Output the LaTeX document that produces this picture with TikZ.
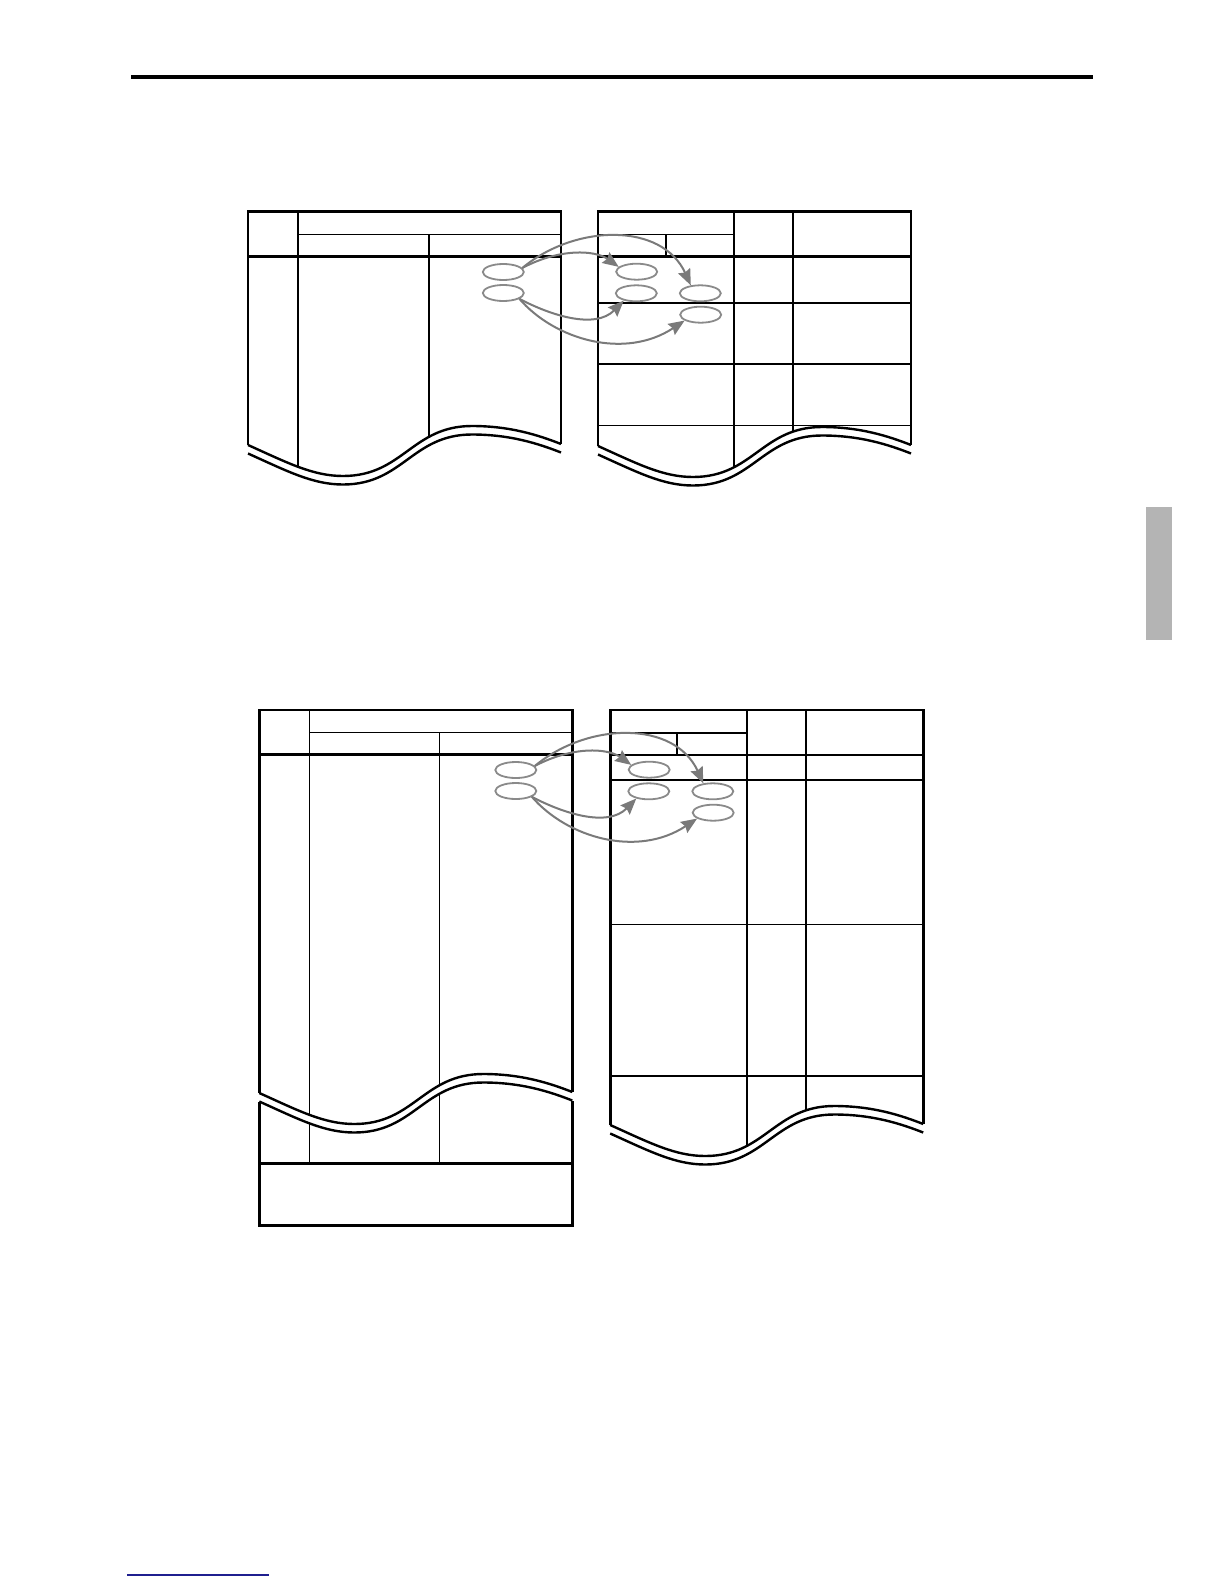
\documentclass[tikz,border=0pt]{standalone}
\usetikzlibrary{arrows.meta,shapes.geometric}
\definecolor{ellgray}{HTML}{8A8A8A}
\definecolor{arrgray}{HTML}{7A7A7A}
\definecolor{tabgray}{HTML}{B4B4B4}
\definecolor{linkblue}{HTML}{1F1F8F}
\tikzset{
  outerln/.style={line width=1.4pt, line join=miter},
  innerln/.style={line width=0.8pt},
  waveln/.style={line width=1.2pt},
  ell/.style={ellipse, draw=ellgray, line width=0.9pt, minimum width=20.5pt, minimum height=8pt, inner sep=0pt},
  flow/.style={draw=arrgray, line width=1pt, -{Stealth[length=8pt,width=6.5pt,inset=1pt]}},
}
\def\wavecurve{.. controls (40,18) and (65,31) .. (95,31) .. controls (155,31) and (164,-19) .. (224,-19) .. controls (262,-19) and (290,-10) .. (313,-1)}
\newcommand\arrowgroup[1]{%
  \node[ell] (#1l1) at (503.3,272) {};
  \node[ell] (#1l2) at (503.3,293) {};
  \node[ell] (#1r1) at (636.7,271.7) {};
  \node[ell] (#1r2) at (636.3,293.3) {};
  \node[ell] (#1r3) at (700.3,293.3) {};
  \node[ell] (#1r4) at (700.7,314.7) {};
  \draw[flow] (#1l1.12) .. controls (560,248) and (595,250) .. (#1r1.165);
  \draw[flow] (#1l1.12) .. controls (575,224) and (662,222) .. (#1r3.140);
  \draw[flow] (#1l2.-20) .. controls (550,315) and (595,330) .. (#1r2.-150);
  \draw[flow] (#1l2.-20) .. controls (555,340) and (625,360) .. (#1r4.-160);
}
\begin{document}
\begin{tikzpicture}[x=0.5pt,y=-0.5pt]
\useasboundingbox (0,0) rectangle (1224,1584);
% top rule
\draw[line width=2pt] (131,77) -- (1093,77);
% side tab
\fill[tabgray] (1146,507) rectangle (1172,640);
% link underline
\draw[linkblue, line width=0.8pt] (127,1575) -- (269,1575);

% ===== top left table =====
\begin{scope}[shift={(248,445)}]
  \begin{scope}
    \clip (-5,-240) -- (-5,0) -- (0,0) \wavecurve -- (318,-1) -- (318,-240) -- cycle;
    \draw[innerln] (49.7,-233.3) -- (49.7,50);
    \draw[innerln] (180.7,-210.7) -- (180.7,50);
    \draw[innerln] (49.7,-210.7) -- (313,-210.7);
    \draw[outerln] (0,-188.3) -- (313,-188.3);
  \end{scope}
  \draw[outerln] (313,-1) -- (313,-233.3) -- (0,-233.3) -- (0,0);
  \draw[waveln] (0,0) \wavecurve;
  \draw[waveln, shift={(0,8.5)}] (0,0) \wavecurve;
\end{scope}

% ===== top right table =====
\begin{scope}[shift={(598,446)}]
  \begin{scope}
    \clip (-5,-240) -- (-5,0) -- (0,0) \wavecurve -- (318,-1) -- (318,-240) -- cycle;
    \draw[innerln] (136,-234.3) -- (136,50);
    \draw[innerln] (195,-234.3) -- (195,50);
    \draw[innerln] (0,-211.7) -- (136,-211.7);
    \draw[innerln] (67.7,-211.7) -- (67.7,-189.3);
    \draw[outerln] (0,-189.3) -- (313,-189.3);
    \draw[innerln] (0,-143) -- (313,-143);
    \draw[innerln] (0,-82) -- (313,-82);
    \draw[innerln] (0,-20.5) -- (313,-20.5);
  \end{scope}
  \draw[outerln] (313,-1) -- (313,-234.3) -- (0,-234.3) -- (0,0);
  \draw[waveln] (0,0) \wavecurve;
  \draw[waveln, shift={(0,8.5)}] (0,0) \wavecurve;
\end{scope}

\arrowgroup{t}

% ===== bottom left table =====
\begin{scope}[shift={(259.3,1093)}]
  \begin{scope}
    \clip (-5,-390) -- (-5,0) -- (0,0) \wavecurve -- (318,-1) -- (318,-390) -- cycle;
    \draw[innerln] (50,-383) -- (50,50);
    \draw[innerln] (180,-360.6) -- (180,50);
    \draw[innerln] (50,-360.6) -- (313,-360.6);
    \draw[outerln] (0,-338.3) -- (313,-338.3);
  \end{scope}
  \draw[outerln] (313,-1) -- (313,-383) -- (0,-383) -- (0,0);
  \draw[waveln] (0,0) \wavecurve;
  \begin{scope}[shift={(0,8.5)}]
    \begin{scope}
      \clip (-5,0) -- (0,0) \wavecurve -- (318,-1) -- (318,130) -- (-5,130) -- cycle;
      \draw[innerln] (50,-20) -- (50,62);
      \draw[innerln] (180,-20) -- (180,62);
    \end{scope}
    \draw[waveln] (0,0) \wavecurve;
    \draw[outerln] (0,0) -- (0,124) -- (313,124) -- (313,-1);
    \draw[outerln] (0,62) -- (313,62);
  \end{scope}
\end{scope}

% ===== bottom right table =====
\begin{scope}[shift={(610.2,1125)}]
  \begin{scope}
    \clip (-5,-420) -- (-5,0) -- (0,0) \wavecurve -- (318,-1) -- (318,-420) -- cycle;
    \draw[innerln] (136.5,-415) -- (136.5,50);
    \draw[innerln] (195.5,-415) -- (195.5,50);
    \draw[innerln] (0,-392.3) -- (136.5,-392.3);
    \draw[innerln] (66.5,-392.3) -- (66.5,-370);
    \draw[outerln] (0,-370) -- (313,-370);
    \draw[innerln] (0,-345) -- (313,-345);
    \draw[innerln] (0,-200.7) -- (313,-200.7);
    \draw[innerln] (0,-49.3) -- (313,-49.3);
  \end{scope}
  \draw[outerln] (313,-1) -- (313,-415) -- (0,-415) -- (0,0);
  \draw[waveln] (0,0) \wavecurve;
  \draw[waveln, shift={(0,8.5)}] (0,0) \wavecurve;
\end{scope}

\begin{scope}[shift={(12.5,498)}]
  \arrowgroup{b}
\end{scope}
\end{tikzpicture}
\end{document}
